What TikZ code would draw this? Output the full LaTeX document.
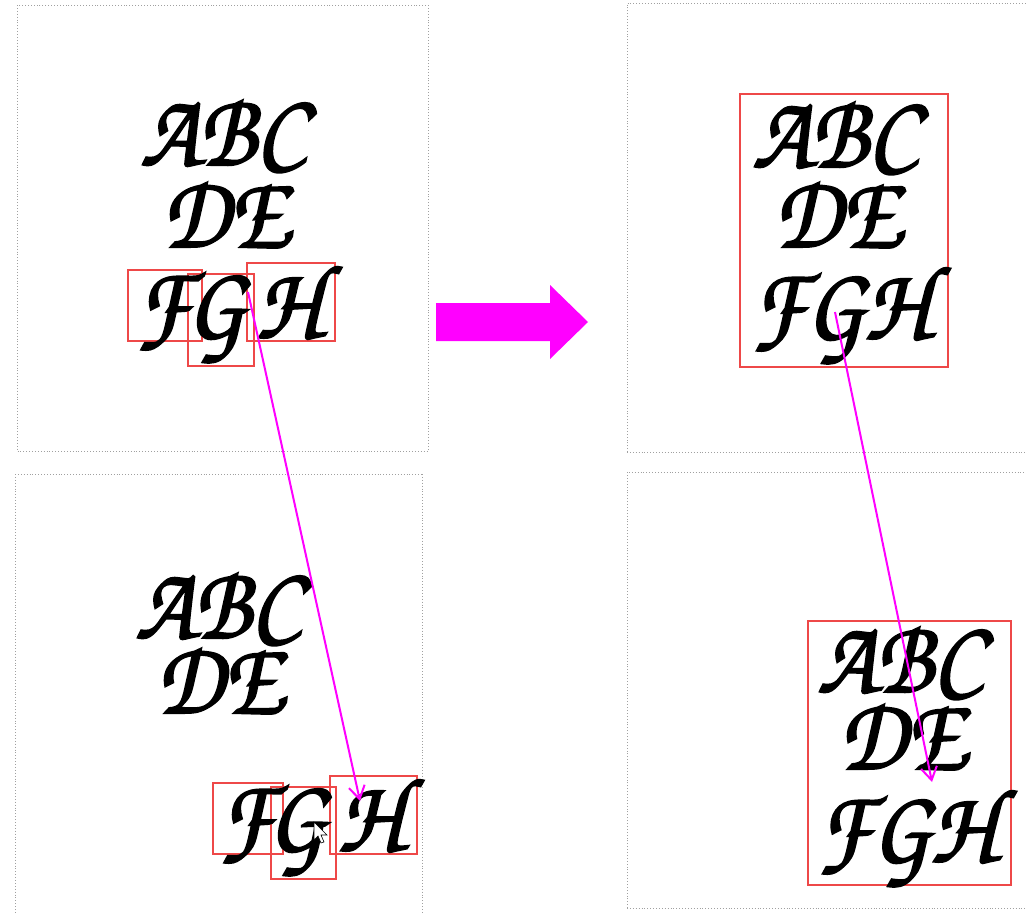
\documentclass[tikz,border=0pt]{standalone}
\usepackage{fontspec}
\newfontfamily\calfont[FakeBold=2,FakeStretch=0.9]{TeX Gyre Chorus}
\usetikzlibrary{arrows.meta}
\definecolor{boxred}{HTML}{EE4848}
\definecolor{mag}{HTML}{FF00FF}
\definecolor{framegray}{HTML}{A0A0A0}
\tikzset{
  frame/.style={draw=framegray, dotted, line width=0.9pt},
  glyph/.style={inner sep=0pt, anchor=base, text=black, font=\calfont\fontsize{105}{105}\selectfont},
  redbox/.style={draw=boxred, line width=1.2pt},
  link/.style={draw=mag, line width=2pt, -{Straight Barb[length=13pt,width=16pt,line width=2pt]}},
}
\begin{document}
\begin{tikzpicture}[x=1pt,y=-1pt]
\useasboundingbox (0,0) rectangle (1026,913);
% frames
\draw[frame] (17,5) rectangle (428,451);
\draw[frame] (15,474) -- (15,920) (422,474) -- (422,920) (15,474) -- (422,474);
\draw[frame] (627,452) -- (627,3) -- (1030,3) (627,452) -- (1030,452);
\draw[frame] (627,908) -- (627,472) -- (1030,472) (627,908) -- (1030,908);

% red boxes
\draw[redbox] (128,270) rectangle (202,341);
\draw[redbox] (188,274) rectangle (254,366);
\draw[redbox] (247,263) rectangle (335,341);
\draw[redbox] (213,783) rectangle (283,854);
\draw[redbox] (271,787) rectangle (336,879);
\draw[redbox] (330,776) rectangle (417,854);
\draw[redbox] (740,94) rectangle (948,367);
\draw[redbox] (808,621) rectangle (1011,885);

% top-left
\node[glyph] (tlabc) at (223,165) {ABC};
\node[glyph] (tlde) at (225,247) {DE};
\node[glyph] (tlf) at (163,338) {F};
\node[glyph] (tlg) at (216,338) {G};
\node[glyph] (tlh) at (288,338) {H};

% bottom-left
\node[glyph] (blabc) at (218,638) {ABC};
\node[glyph] (blde) at (219,713) {DE};
\node[glyph] (blf) at (246,851) {F};
\node[glyph] (blg) at (297,851) {G};
\node[glyph] (blh) at (370,851) {H};

% top-right
\node[glyph] (trabc) at (835,167) {ABC};
\node[glyph] (trde) at (837,247) {DE};
\node[glyph] (trfgh) at (840,339) {FGH};

% bottom-right
\node[glyph] (brabc) at (900,692) {ABC};
\node[glyph] (brde) at (902,769) {DE};
\node[glyph] (brfgh) at (906,862) {FGH};

% mouse cursor
\draw[black, fill=white, line width=0.6pt] (314,822) -- (314,840) -- (318,836) -- (321,843) -- (324,842) -- (321,835) -- (327,835) -- cycle;

% big arrow
\fill[mag] (436,303) -- (550,303) -- (550,285) -- (588,322) -- (550,359) -- (550,341) -- (436,341) -- cycle;

% drag links
\coordinate (s1) at (248,292);
\coordinate (e1) at (360,801);
\coordinate (s2) at (835,312);
\coordinate (e2) at (932,782);
\draw[link] (s1) -- (e1);
\draw[link] (s2) -- (e2);
\end{tikzpicture}
\end{document}
